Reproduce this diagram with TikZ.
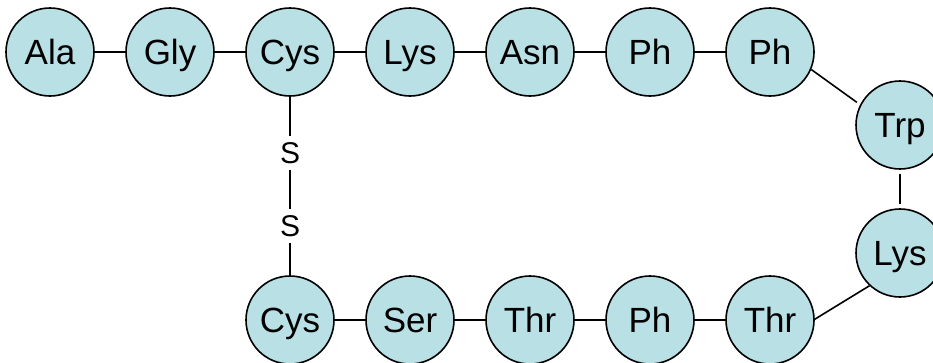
\documentclass[tikz,border=0pt]{standalone}
\usepackage{fontspec}
\setmainfont{Liberation Sans}
\definecolor{aafill}{RGB}{185,224,228}
\begin{document}
\begin{tikzpicture}[x=1pt,y=1pt,
  aa/.style={circle,draw=black,line width=1.6pt,fill=aafill,minimum size=88pt,inner sep=0pt,text height=25pt,text depth=0pt,font=\fontsize{35}{40}\selectfont},
  sb/.style={font=\fontsize{30}{34}\selectfont,inner sep=0pt,text height=21pt,text depth=0pt,minimum height=34pt},
  bond/.style={line width=1.6pt}]
\useasboundingbox (0,0) rectangle (933,-362);
\node[aa] (ala) at (50,-52) {Ala};
\node[aa] (gly) at (170,-52) {Gly};
\node[aa] (cysa) at (290,-52) {Cys};
\node[aa] (lysa) at (410,-52) {Lys};
\node[aa] (asn) at (530,-52) {Asn};
\node[aa] (pha) at (650,-52) {Ph};
\node[aa] (phb) at (770,-52) {Ph};
\node[aa] (trp) at (900,-125) {Trp};
\node[aa] (lysb) at (900,-253) {Lys};
\node[aa] (thrb) at (770,-320) {Thr};
\node[aa] (phc) at (650,-320) {Ph};
\node[aa] (thra) at (530,-320) {Thr};
\node[aa] (ser) at (410,-320) {Ser};
\node[aa] (cysb) at (290,-320) {Cys};
\node[sb] (sa) at (290,-153) {S};
\node[sb] (sb2) at (290,-226) {S};
\draw[bond] (ala) -- (gly);
\draw[bond] (gly) -- (cysa);
\draw[bond] (cysa) -- (lysa);
\draw[bond] (lysa) -- (asn);
\draw[bond] (asn) -- (pha);
\draw[bond] (pha) -- (phb);
\draw[bond,shorten >=4pt] (phb.-23) -- (trp.153);
\draw[bond,shorten >=4pt,shorten <=4pt] (trp) -- (lysb);
\draw[bond] (lysb.227) -- (thrb.1);
\draw[bond] (thrb) -- (phc);
\draw[bond] (phc) -- (thra);
\draw[bond] (thra) -- (ser);
\draw[bond] (ser) -- (cysb);
\draw[bond] (cysa) -- (sa);
\draw[bond] (sa) -- (sb2);
\draw[bond] (sb2) -- (cysb);
\end{tikzpicture}
\end{document}
